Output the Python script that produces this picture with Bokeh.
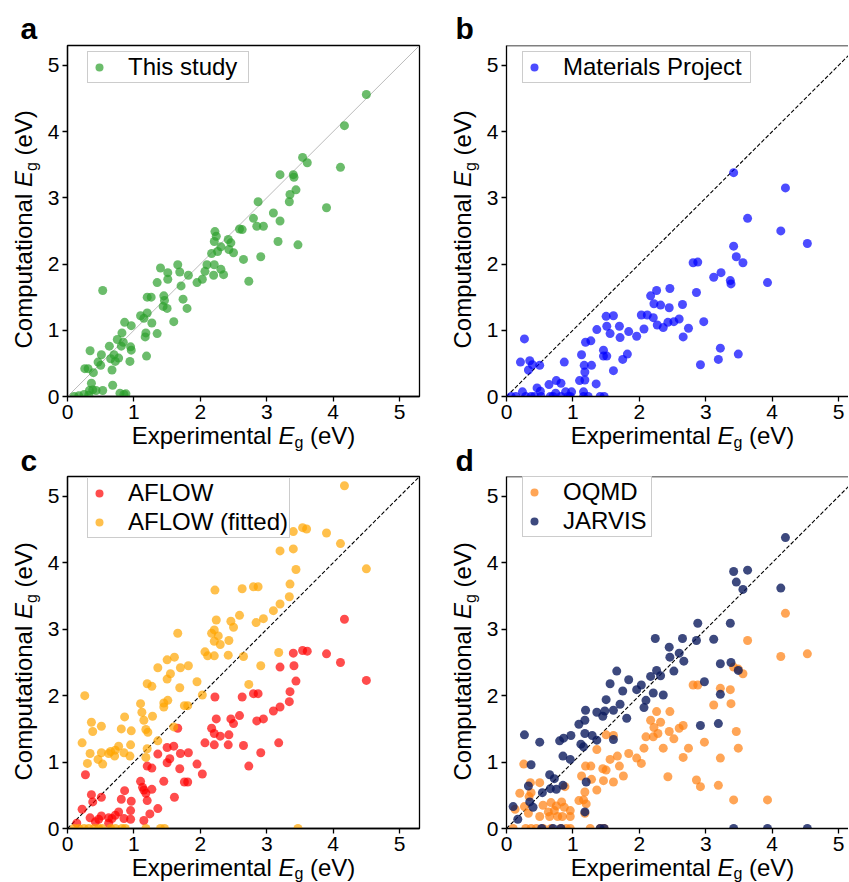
import math
from bokeh.plotting import figure
from bokeh.models import Legend, LegendItem, Span, Range1d, FixedTicker
from bokeh.layouts import column, row
from bokeh.core.properties import value
from bokeh.embed import file_html
from bokeh.resources import INLINE

# ---------------- data ----------------
tick_values = [0, 1, 2, 3, 4, 5]
axis_limit = 5.3
diag = [0, 5.3]

# (a) This study
a_exp = [4.50,4.17,4.11,3.54,3.61,3.20,3.40,3.41,3.44,3.35,
         3.34,3.90,2.87,3.10,3.20,2.80,2.85,2.95,3.17,3.47,
         2.63,2.59,2.22,2.24,2.21,2.42,2.46,2.43,2.50,2.31,
         2.26,2.17,2.65,2.91,2.73,2.10,2.21,2.07,2.31,2.35,
         2.20,2.03,1.95,1.66,1.69,1.40,1.51,1.51,1.82,1.35,
         1.71,0.53,1.20,1.26,1.45,1.46,1.74,1.44,1.50,1.80,
         1.60,1.20,1.10,1.15,1.27,0.86,0.96,0.82,1.18,1.35,
         1.17,0.75,0.84,0.81,0.95,0.96,0.63,0.34,0.51,0.70,
         0.77,0.65,0.72,0.94,0.46,0.50,1.19,0.26,0.31,0.39,
         0.67,0.36,0.68,0.38,0.43,0.53,0.79,0.85,0.88,0.10,
         0.17,0.25,0.32,0.33]
a_calc = [4.56,4.09,3.46,3.61,3.53,3.35,3.35,3.31,3.12,3.05,
          2.94,2.85,2.94,2.77,2.65,2.69,2.57,2.57,2.34,2.29,
          2.52,2.53,2.49,2.42,2.34,2.37,2.32,2.22,2.17,2.26,
          2.19,2.16,2.07,2.11,1.74,1.99,1.99,1.89,1.92,1.84,
          1.83,1.77,1.72,1.99,1.88,1.94,1.87,1.77,1.83,1.72,
          1.67,1.60,1.50,1.50,1.52,1.45,1.47,1.36,1.33,1.33,
          1.13,1.26,1.22,1.18,1.11,1.12,1.07,0.96,0.96,0.95,
          0.90,0.86,0.82,0.76,0.75,0.70,0.76,0.69,0.63,0.63,
          0.58,0.57,0.53,0.53,0.52,0.47,0.61,0.42,0.42,0.36,
          0.40,0.20,0.17,0.10,0.09,0.09,0.05,0.03,0.04,0.00,
          0.01,0.03,0.02,0.09]

# (b) Materials Project
b_exp = [3.42,4.20,3.63,4.13,4.53,3.42,3.46,3.56,2.81,2.88,
         3.12,3.23,3.37,3.38,3.93,2.46,2.26,2.17,2.86,2.22,
         2.32,2.45,2.65,2.03,2.12,2.21,2.27,2.36,2.43,2.52,
         2.60,2.97,2.74,2.66,2.07,1.96,1.50,1.61,1.51,1.70,
         1.56,1.71,1.84,1.36,1.19,1.27,1.13,1.46,1.46,1.51,
         1.82,1.75,1.17,1.28,1.18,1.61,2.92,3.19,3.22,3.49,
         0.27,0.21,0.35,0.33,0.39,0.50,0.87,0.75,0.82,0.64,
         0.46,0.51,1.10,1.18,1.35,0.89,0.98,1.16,0.74,0.24,
         0.07,0.14,0.29,0.37,0.42,0.52,0.66,0.70,0.82,0.93,
         0.96,1.16,1.23,1.41,1.47]
b_calc = [3.38,3.15,2.69,2.50,2.31,2.27,2.11,2.02,2.02,2.03,
          1.80,1.87,1.75,1.70,1.72,1.63,1.60,1.52,1.57,1.40,
          1.38,1.34,1.39,1.23,1.23,1.19,1.08,1.04,1.12,1.13,
          1.17,1.13,1.03,0.90,1.02,0.91,1.21,1.22,1.06,1.06,
          0.95,0.89,0.98,1.01,0.82,0.84,0.63,0.70,0.61,0.61,
          0.64,0.56,0.47,0.47,0.37,0.39,0.48,0.56,0.73,0.64,
          0.87,0.52,0.54,0.40,0.48,0.47,0.52,0.24,0.20,0.18,
          0.13,0.08,0.24,0.25,0.19,0.07,0.07,0.07,0.05,0.07,
          0,0,0,0,0,0,0,0,0,0,
          0,0,0,0,0]

# (c) AFLOW
c_aflow_exp = [4.17,3.54,3.61,3.40,3.90,4.11,4.50,3.20,3.41,3.44,
               3.35,3.34,3.20,3.10,2.95,2.85,2.80,2.87,2.63,2.22,
               2.24,2.17,2.21,2.30,2.46,2.50,2.59,2.43,2.42,2.65,
               2.21,2.07,3.18,2.91,2.73,1.66,1.50,1.60,1.70,1.82,
               1.36,1.54,1.50,1.20,1.27,1.95,1.69,2.03,1.45,1.76,
               1.81,1.10,1.13,1.15,1.27,1.18,1.61,1.20,0.96,0.86,
               0.81,0.27,0.36,0.38,0.51,0.22,0.34,0.51,0.62,0.77,
               0.72,0.95,0.85,0.95,1.36,1.24,1.15,0.67,0.42,0.47,
               0.14,0.62]
c_aflow_calc = [3.15,2.68,2.67,2.64,2.63,2.50,2.23,2.43,2.45,2.22,
                2.06,1.91,1.83,1.77,1.65,1.62,2.03,2.03,1.98,1.98,
                1.65,1.51,1.43,1.39,1.65,1.58,1.70,1.41,1.26,1.25,
                1.26,1.29,1.29,1.14,0.94,1.51,1.22,1.24,1.13,1.14,
                1.12,1.05,0.99,0.94,0.91,0.97,0.90,0.82,0.71,0.70,
                0.70,0.71,0.62,0.58,0.59,0.53,0.47,0.42,0.41,0.57,
                0.44,0.81,0.51,0.40,0.47,0.29,0.16,0.19,0.16,0.25,
                0.20,0.27,0.15,0.14,0.30,0.22,0.12,0.15,0.10,0.14,
                0.08,0.08]

# (c) AFLOW (fitted)
c_fit_exp = [4.17,3.60,3.54,3.40,3.90,4.11,3.20,3.40,3.44,4.50,
             3.35,3.34,2.80,2.87,2.63,2.22,3.20,3.10,2.95,2.84,
             2.59,2.46,2.50,2.24,2.17,2.21,2.27,2.21,2.30,2.43,
             2.07,2.11,2.21,2.42,2.65,3.18,2.91,2.73,1.66,1.61,
             1.50,1.82,1.70,1.55,1.36,1.50,1.20,1.27,1.95,1.69,
             2.03,1.51,1.45,1.45,1.76,1.81,1.10,1.12,1.28,1.15,
             1.18,1.21,1.60,1.36,1.20,1.18,0.96,0.86,0.81,0.95,
             0.94,0.77,0.72,0.85,0.62,0.65,0.26,0.36,0.38,0.51,
             0.22,0.34,0.51,0.30,0.46,0.53,0.71,
             0.10,0.17,0.25,0.32,0.40,0.47,0.52,0.65,0.72,0.82,
             0.87,1.18,1.40,1.46,3.47]
c_fit_calc = [5.16,4.51,4.53,4.47,4.45,4.29,4.18,4.21,3.90,3.91,
              3.68,3.49,3.64,3.64,3.61,3.59,3.38,3.28,3.16,3.10,
              3.21,3.12,3.03,3.14,2.94,2.99,2.90,2.82,2.77,2.83,
              2.66,2.60,2.60,2.61,2.59,2.65,2.45,2.17,2.94,2.58,
              2.54,2.45,2.42,2.33,2.42,2.25,2.18,2.14,2.21,2.12,
              2.01,1.93,1.89,1.83,1.85,1.85,1.88,1.75,1.69,1.63,
              1.49,1.45,1.53,1.32,1.20,1.07,1.47,1.68,1.50,1.26,
              1.09,1.24,1.18,1.14,1.13,1.16,2.00,1.60,1.46,1.54,
              1.29,1.13,1.14,0.98,1.04,0.97,1.09,
              0,0,0,0,0,0,0,0,0,0,
              0,0,0,0,0]

# (d) OQMD
d_oqmd_exp = [4.20,3.63,4.53,4.13,3.42,3.49,3.56,2.81,2.88,3.22,
              3.37,3.12,3.38,2.26,2.46,2.17,2.32,2.22,2.28,2.10,
              2.21,2.45,2.52,2.60,2.66,3.46,2.98,2.07,2.36,2.74,
              2.66,3.49,3.22,1.50,1.61,1.36,1.84,1.96,2.03,1.56,
              1.67,1.70,1.19,1.27,1.45,1.50,1.76,1.13,1.46,1.61,
              1.28,1.36,2.43,2.86,2.92,3.19,3.42,3.93,1.18,1.16,
              1.09,1.20,1.18,0.26,0.20,0.36,0.50,0.37,0.34,0.27,
              0.13,0.33,0.50,0.55,0.67,0.83,0.75,0.96,0.63,0.72,
              0.87,0.88,0.84,0.96,0.65,0.77,
              0.10,0.29,0.37,0.45,0.55,0.67,0.82,0.90,0.96,1.26,
              1.41,1.47]
d_oqmd_calc = [3.24,2.83,2.63,2.59,2.43,2.40,2.33,2.16,2.16,2.11,
               2.09,1.86,1.88,1.76,1.76,1.63,1.60,1.52,1.43,1.38,
               1.38,1.46,1.35,1.51,1.55,1.46,1.30,1.21,1.21,1.21,
               1.07,1.21,1.06,1.41,1.40,1.19,1.13,1.06,0.98,1.04,
               1.09,0.94,0.94,0.94,0.90,0.88,0.79,0.79,0.72,0.70,
               0.74,0.58,0.78,0.73,0.63,0.65,0.43,0.43,0.55,0.43,
               0.42,0.37,0.23,0.97,0.53,0.69,0.69,0.54,0.48,0.33,
               0.29,0.23,0.18,0.35,0.39,0.40,0.34,0.27,0.25,0.27,
               0.32,0.63,0.18,0.18,0.18,0.18,
               0,0,0,0,0,0,0,0,0,0,
               0,0]

# (d) JARVIS
d_jarvis_exp = [4.20,3.42,3.63,3.46,3.56,4.13,2.88,3.37,2.24,2.65,
                2.86,3.12,2.45,2.60,2.46,2.67,2.52,3.22,3.38,3.49,
                2.98,2.26,2.17,2.32,2.03,1.96,2.10,2.21,2.36,2.07,
                3.22,2.92,3.19,1.66,1.84,1.56,1.75,1.50,1.71,1.81,
                1.19,1.36,1.48,1.61,1.45,1.18,1.09,1.18,1.29,1.36,
                1.12,1.16,1.61,0.97,0.80,0.86,0.85,0.96,0.50,0.27,
                0.37,0.65,0.72,0.66,0.75,0.85,0.33,0.54,1.20,0.35,
                0.40,0.10,0.17,1.18,
                0.53,0.70,0.82,1.41,1.47,3.42,3.93,4.53]
d_jarvis_calc = [4.38,3.87,3.89,3.71,3.60,3.62,3.09,3.09,2.86,2.86,
                 2.83,2.85,2.73,2.64,2.58,2.52,2.37,2.48,2.50,2.38,
                 2.21,2.38,2.29,2.30,2.16,2.09,1.93,2.04,2.01,1.82,
                 2.02,1.55,1.58,2.37,2.24,2.18,2.07,1.94,1.87,1.66,
                 1.78,1.75,1.77,1.78,1.69,1.63,1.57,1.43,1.40,1.33,
                 1.27,1.23,1.34,1.40,1.32,1.36,1.09,1.04,1.30,1.41,
                 0.96,0.81,0.75,0.60,0.59,0.65,0.64,0.54,0.70,0.40,
                 0.32,0.33,0.14,0.25,
                 0,0,0,0,0,0,0,0]

# ---------------- styling ----------------
FONT = "Liberation Sans"
C_GREEN = "#2ca02c"
C_BLUE = "#0000ff"
C_RED = "#ff0000"
C_YELLOW = "#ffa500"
C_ORANGE = "#ff7f0e"
C_NAVY = "#0d1b5e"
ALPHA = 0.7
MSIZE = 9
LW = 1.3

PAGE_H = 882
STRIP_W = 43
BASE_SHIFT = 0.33  # empirical: bokeh text glyph baseline sits ~0.33em low


def strip(w, h, bl=0, br=0):
    """A blank figure whose data units are pixels of its frame, used for text."""
    f = figure(frame_width=w - bl - br, frame_height=h,
               x_range=Range1d(0, w - bl - br), y_range=Range1d(0, h),
               x_axis_type=None, y_axis_type=None, title=None,
               min_border_left=bl, min_border_right=br,
               min_border_top=0, min_border_bottom=0,
               output_backend="svg", toolbar_location=None,
               background_fill_color="white", border_fill_color="white")
    f.outline_line_color = None
    f.grid.visible = False
    return f


def put_text(f, x, y, txt, size_px, style="normal", rotated=False):
    sh = BASE_SHIFT * size_px
    if rotated:
        xx, yy, ang = x - sh, y, math.pi / 2
    else:
        xx, yy, ang = x, y + sh, 0.0
    f.text(x=[xx], y=[yy], text=[txt], angle=ang,
           text_font=value(FONT), text_font_size=value(f"{size_px}px"),
           text_font_style=style, text_color="black",
           text_align="left", text_baseline="alphabetic")


def ylabel_column(letter_top, letter_bot, letter_x):
    f = strip(STRIP_W, PAGE_H)
    put_text(f, letter_x, PAGE_H - 38, letter_top, 30, "bold")
    put_text(f, letter_x, PAGE_H - 470, letter_bot, 30, "bold")
    xb = 31
    for start in (PAGE_H - 348, PAGE_H - 780):
        put_text(f, xb, start, "Computational", 24, rotated=True)
        put_text(f, xb, start + 161.4, "E", 24, "italic", rotated=True)
        put_text(f, xb + 5, start + 177.4, "g", 16, rotated=True)
        put_text(f, xb, start + 193.0, "(eV)", 24, rotated=True)
    return f


def xlabel_strip(w, br, h, base, sub_drop):
    f = strip(w, h, bl=24, br=br)
    x0 = 64.2  # relative to the panel's frame left edge
    put_text(f, x0, base, "Experimental", 24)
    put_text(f, x0 + 146.7, base, "E", 24, "italic")
    put_text(f, x0 + 162.7, base - sub_drop, "g", 16)
    put_text(f, x0 + 178.3, base, "(eV)", 24)
    return f


def make_panel(frame_w, frame_h, xmax, br, bt, bb, full_frame):
    p = figure(frame_width=frame_w, frame_height=frame_h,
               x_range=Range1d(0, xmax), y_range=Range1d(0, axis_limit),
               min_border_left=24, min_border_right=br,
               min_border_top=bt, min_border_bottom=bb, title=None,
               output_backend="svg", toolbar_location=None,
               background_fill_color="white", border_fill_color="white")
    p.grid.visible = False
    p.xaxis.ticker = FixedTicker(ticks=tick_values)
    p.yaxis.ticker = FixedTicker(ticks=tick_values)
    for ax in (p.xaxis[0], p.yaxis[0]):
        ax.axis_line_width = LW
        ax.axis_line_color = "black"
        ax.major_tick_line_width = LW
        ax.major_tick_line_color = "black"
        ax.major_tick_out = 5
        ax.major_tick_in = 0
        ax.minor_tick_line_color = None
        ax.major_label_text_font = FONT
        ax.major_label_text_font_size = "21px"
        ax.major_label_text_color = "black"
        ax.major_label_standoff = 3
    if full_frame:
        p.outline_line_color = "black"
        p.outline_line_width = LW
        p.outline_line_alpha = 1.0
    else:
        p.outline_line_color = None
        p.add_layout(Span(location=axis_limit, dimension="width",
                          line_color="black", line_width=LW))
    return p


def add_diag(p, dashed):
    if dashed:
        p.line(diag, diag, line_color="black", line_width=1.1, line_dash="4 2")
    else:
        p.line(diag, diag, line_color="#aaaaaa", line_width=0.8)


def add_legend(p, items, loc, label_width, nrows):
    lh = 26 if nrows == 1 else 24
    leg = Legend(items=items, location=loc, orientation="vertical",
                 label_text_font=FONT, label_text_font_size="24px",
                 label_text_color="black", label_text_baseline="middle",
                 glyph_width=20, glyph_height=lh, label_height=lh,
                 label_width=label_width, label_standoff=19,
                 padding=1, spacing=1, margin=0,
                 border_line_color="#999999", border_line_width=1.5,
                 background_fill_color="white", background_fill_alpha=1.0)
    p.add_layout(leg, "center")


def dots(p, xs, ys, color, alpha=ALPHA):
    return p.scatter(xs, ys, size=MSIZE, fill_color=color, fill_alpha=alpha,
                     line_color=color, line_alpha=alpha, line_width=0)


FW, FH_TOP, FH_BOT = 352, 351, 352
FW_R = 342
XMAX_R = axis_limit * FW_R / FW
BB = 25

# (a)
pa = make_panel(FW, FH_TOP, axis_limit, 20, 45, BB, True)
add_diag(pa, False)
ra = dots(pa, a_exp, a_calc, C_GREEN)
add_legend(pa, [LegendItem(label="This study", renderers=[ra])], (20, 313), 119, 1)

# (b)
pb = make_panel(FW_R, FH_TOP, XMAX_R, 0, 45, BB, False)
add_diag(pb, True)
rb = dots(pb, b_exp, b_calc, C_BLUE)
add_legend(pb, [LegendItem(label="Materials Project", renderers=[rb])], (16, 313), 186, 1)

# (c)
pc = make_panel(FW, FH_BOT, axis_limit, 20, 25, BB, True)
add_diag(pc, True)
rc1 = dots(pc, c_aflow_exp, c_aflow_calc, C_RED)
rc2 = dots(pc, c_fit_exp, c_fit_calc, C_YELLOW)
add_legend(pc, [LegendItem(label="AFLOW", renderers=[rc1]),
                LegendItem(label="AFLOW (fitted)", renderers=[rc2])], (20, 290), 157, 2)

# (d)
pd_ = make_panel(FW_R, FH_BOT, XMAX_R, 0, 25, BB, False)
add_diag(pd_, True)
rd1 = dots(pd_, d_oqmd_exp, d_oqmd_calc, C_ORANGE)
rd2 = dots(pd_, d_jarvis_exp, d_jarvis_calc, C_NAVY, 0.8)
add_legend(pd_, [LegendItem(label="OQMD", renderers=[rd1]),
                 LegendItem(label="JARVIS", renderers=[rd2])], (16, 291), 87, 2)

WL = 24 + FW + 20
WR = 24 + FW_R
left_col = column(pa, xlabel_strip(WL, 20, 30, 8, 4), pc, xlabel_strip(WL, 20, 29, 7, 3.5))
right_col = column(pb, xlabel_strip(WR, 0, 30, 8, 4), pd_, xlabel_strip(WR, 0, 29, 7, 3.5))
layout = row(ylabel_column("a", "c", 20), left_col,
             ylabel_column("b", "d", 16), right_col)

with open("out.html", "w") as f:
    f.write(file_html(layout, INLINE))
